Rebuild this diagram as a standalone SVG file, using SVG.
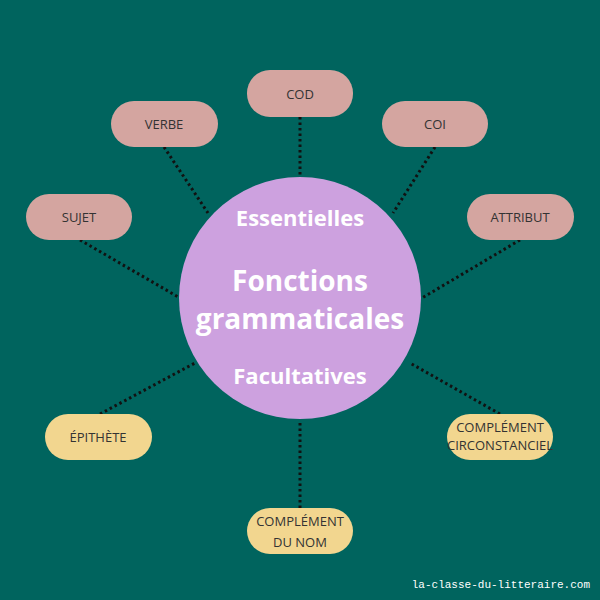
<svg xmlns="http://www.w3.org/2000/svg" width="600" height="600" viewBox="0 0 600 600">
<style>
.ess{fill:#d4a5a0}
.fac{fill:#f2d68f}
.lbl{font-family:"Open Sans","Liberation Sans",sans-serif;font-size:13px;fill:#333;text-anchor:middle}
.con line{stroke:#111;stroke-width:3;stroke-dasharray:2.5 3}
.big{font-family:"Open Sans","Liberation Sans",sans-serif;font-weight:bold;fill:#fff;text-anchor:middle}
</style>
<rect width="600" height="600" fill="#00645e"/>
<g id="connectors" class="con">
<line x1="300" y1="117" x2="300" y2="178"/>
<line x1="164" y1="147" x2="208" y2="213"/>
<line x1="435" y1="147" x2="393" y2="213"/>
<line x1="80" y1="240" x2="180" y2="298"/>
<line x1="520" y1="240" x2="422" y2="298"/>
<line x1="100" y1="414" x2="195" y2="363"/>
<line x1="500" y1="414" x2="410" y2="363"/>
<line x1="300" y1="508" x2="300" y2="420"/>
</g>
<g id="center">
<circle cx="300" cy="298" r="121" fill="#cda1df"/>
<text class="big" x="300" y="226" font-size="22">Essentielles</text>
<text class="big" x="300" y="291" font-size="28">Fonctions</text>
<text class="big" x="300" y="329" font-size="28">grammaticales</text>
<text class="big" x="300" y="384" font-size="22">Facultatives</text>
</g>
<g id="cod"><rect class="ess" x="247" y="70" width="106" height="47" rx="23"/><text class="lbl" x="300" y="99">COD</text></g>
<g id="verbe"><rect class="ess" x="111" y="101" width="107" height="46" rx="23"/><text class="lbl" x="164" y="129">VERBE</text></g>
<g id="coi"><rect class="ess" x="382" y="101" width="106" height="46" rx="23"/><text class="lbl" x="435" y="129">COI</text></g>
<g id="sujet"><rect class="ess" x="26" y="194" width="106" height="46" rx="23"/><text class="lbl" x="79" y="222">SUJET</text></g>
<g id="attribut"><rect class="ess" x="467" y="194" width="107" height="46" rx="23"/><text class="lbl" x="520" y="222">ATTRIBUT</text></g>
<g id="epithete"><rect class="fac" x="45" y="414" width="107" height="46" rx="23"/><text class="lbl" x="98" y="442">ÉPITHÈTE</text></g>
<g id="cc"><rect class="fac" x="447" y="414" width="106" height="46" rx="23"/><text class="lbl" x="500" y="432" font-size="12.5">COMPLÉMENT</text><text class="lbl" x="500" y="450" font-size="12.5">CIRCONSTANCIEL</text></g>
<g id="cdn"><rect class="fac" x="247" y="508" width="106" height="46" rx="23"/><text class="lbl" x="300" y="526">COMPLÉMENT</text><text class="lbl" x="300" y="547">DU NOM</text></g>
<text x="590" y="588" font-family="Liberation Mono,monospace" font-size="11" fill="#fff" text-anchor="end">la-classe-du-litteraire.com</text>
</svg>
